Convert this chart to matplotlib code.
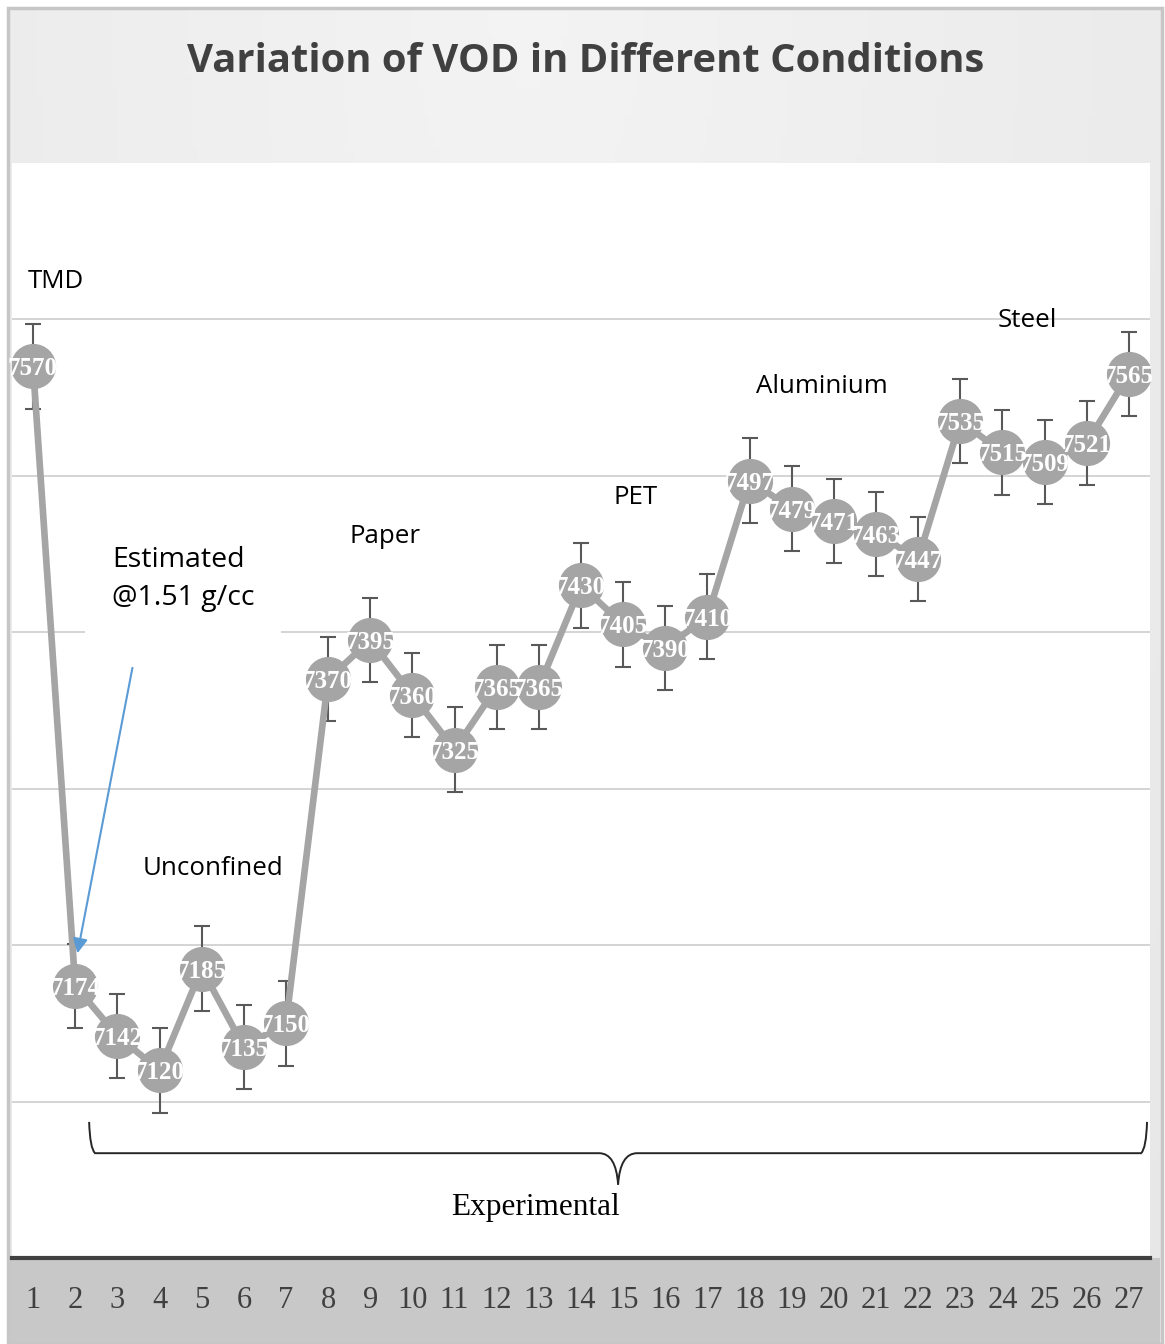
import numpy as np
import matplotlib
matplotlib.use("Agg")
import matplotlib.pyplot as plt
from matplotlib.patches import Rectangle, PathPatch
from matplotlib.path import Path

# ---- data ----
runs = list(range(1, 28))
vod = [7570, 7174, 7142, 7120, 7185, 7135, 7150, 7370, 7395, 7360, 7325, 7365, 7365,
       7430, 7405, 7390, 7410, 7497, 7479, 7471, 7463, 7447, 7535, 7515, 7509, 7521, 7565]
err = [27] * 27
tick_labels = [str(r) for r in runs]
groups = ["TMD", "Unconfined", "Paper", "PET", "Aluminium", "Steel"]
title = "Variation of VOD in Different Conditions"

W, H = 1165, 1344
fig = plt.figure(figsize=(W / 100, H / 100), dpi=100)
fig.patch.set_facecolor("white")

def fx(px):
    return px / W

def fy(py):
    return 1 - py / H

# background frame with gradient
bg = fig.add_axes([fx(8), 0, fx(1162) - fx(8), fy(8)], zorder=-3)
bg.set_axis_off()
gx = np.linspace(0, 1, 200)
gy = np.linspace(0, 1, 200)
GX, GY = np.meshgrid(gx, gy)
dist = np.sqrt(((GX - 0.45) * 1.0) ** 2 + (GY * 0.6) ** 2)
vals = 0.955 - 0.06 * np.clip(dist, 0, 1)
bg.imshow(np.dstack([vals, vals, vals]), extent=[0, 1, 0, 1], aspect="auto", origin="upper")
bg.set_xlim(0, 1)
bg.set_ylim(0, 1)
# bottom band
bg.add_patch(Rectangle((fx(10), 0), fx(1160) - fx(10), fy(1258), transform=fig.transFigure,
                       facecolor="#c8c8c8", edgecolor="none", zorder=3))
bg.add_patch(Rectangle((fx(8), 0), fx(1162) - fx(8), fy(8), transform=fig.transFigure,
                       fill=False, edgecolor="#c6c6c6", lw=2.5, zorder=4, clip_on=False))

ax = fig.add_axes([fx(12), fy(1258), fx(1150) - fx(12), fy(163) - fy(1258)], zorder=0)
ax.set_facecolor("white")
ax.set_xlim(0.5, 27.5)
ax.set_ylim(7000, 7700)
ax.set_yticks([7100, 7200, 7300, 7400, 7500, 7600])
ax.yaxis.grid(True, color="#d4d4d4", lw=1.4, zorder=0)
ax.tick_params(axis="y", left=False, labelleft=False)
ax.set_xticks(runs)
ax.set_xticklabels(tick_labels, family="Liberation Serif", fontsize=22, color="#404040")
ax.tick_params(axis="x", length=0, pad=20)
for s in ["top", "left", "right"]:
    ax.spines[s].set_visible(False)
ax.spines["bottom"].set_color("#404040")
ax.spines["bottom"].set_linewidth(3)

ax.errorbar(runs, vod, yerr=err, fmt="none", ecolor="#595959", elinewidth=1.5,
            capsize=6, capthick=1.5, zorder=2)
ax.plot(runs, vod, color="#a5a5a5", lw=4.8, marker="o", markersize=31.5,
        markerfacecolor="#a5a5a5", markeredgecolor="#a5a5a5", zorder=3)
for r, v in zip(runs, vod):
    ax.text(r, v, str(v), ha="center", va="center_baseline", color="white", fontsize=18,
            family="Liberation Serif", fontweight="bold", zorder=4)

lab_font = dict(family="Open Sans", fontsize=18.6, color="black", va="center", ha="left")
group_pos = [(0.88, 7624), (3.61, 7249), (8.50, 7461), (14.76, 7486), (18.15, 7557), (23.89, 7599)]
for g, (gxp, gyp) in zip(groups, group_pos):
    ax.text(gxp, gyp, g, zorder=5, **lab_font)

est_font = dict(lab_font)
est_font["fontsize"] = 20.5
ax.text(2.87, 7434, "Estimated\n@1.51 g/cc", linespacing=1.45, zorder=5,
        bbox=dict(facecolor="white", edgecolor="none", pad=19), **est_font)

ax.annotate("", xy=(2.04, 7193), xytext=(3.37, 7379),
            arrowprops=dict(arrowstyle="-|>", color="#5b9bd5", lw=1.5,
                            mutation_scale=22), zorder=6)

# curly bracket
xl, xr, xm = 2.33, 27.43, 14.88
yt, yh, ytip = 7087, 7067, 7047
dx = 0.07
verts = [(xl, yt), (xl + 0.02, yh + 3), (xl + dx * 2, yh),
         (xm - 0.45, yh),
         (xm - 0.05, yh), (xm, ytip),
         (xm + 0.05, yh), (xm + 0.45, yh),
         (xr - dx * 2, yh),
         (xr - 0.02, yh + 3), (xr, yt)]
codes = [Path.MOVETO, Path.CURVE3, Path.CURVE3,
         Path.LINETO,
         Path.CURVE3, Path.CURVE3,
         Path.CURVE3, Path.CURVE3,
         Path.LINETO,
         Path.CURVE3, Path.CURVE3]
ax.add_patch(PathPatch(Path(verts, codes), fill=False, edgecolor="#262626", lw=1.4, zorder=5))
ax.text(12.91, 7032, "Experimental", ha="center", va="center", fontsize=22.5,
        family="Liberation Serif", color="black", zorder=5)

fig.text(0.503, fy(61), title, ha="center", va="center", fontsize=28.8,
         family="Open Sans", fontweight="bold", color="#404040")

fig.savefig("out.png", dpi=100)
